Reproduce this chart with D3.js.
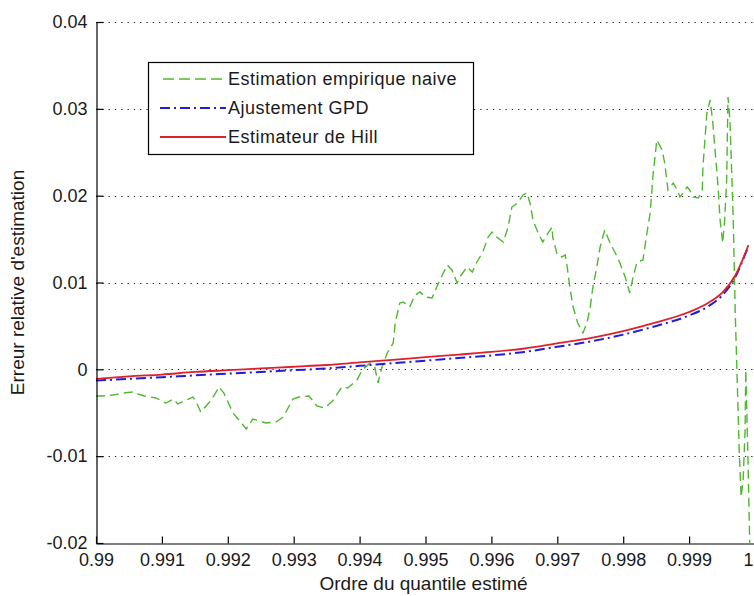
<!DOCTYPE html>
<html>
<head>
<meta charset="utf-8">
<script src="https://cdn.jsdelivr.net/npm/d3@7"></script>
<style>
  html, body { margin: 0; padding: 0; background: #fff; }
  svg { display: block; }
  text { font-family: "Liberation Sans", Arial, sans-serif; fill: #1a1a1a; }
</style>
</head>
<body>
<svg id="chart" width="754" height="596"></svg>
<script>
// ---------- DATA ----------
const xTicks = [0.99, 0.991, 0.992, 0.993, 0.994, 0.995, 0.996, 0.997, 0.998, 0.999, 1];
const xTickLabels = ["0.99", "0.991", "0.992", "0.993", "0.994", "0.995", "0.996", "0.997", "0.998", "0.999", "1"];
const yTicks = [-0.02, -0.01, 0, 0.01, 0.02, 0.03, 0.04];
const yTickLabels = ["-0.02", "-0.01", "0", "0.01", "0.02", "0.03", "0.04"];

const seriesNames = ["Estimation empirique naive", "Ajustement GPD", "Estimateur de Hill"];

// Estimation empirique naive (green dashed)
const empX = [0.99000,0.99008,0.99026,0.99041,0.99056,0.99064,0.99073,0.99091,0.99106,0.99118,
  0.99124,0.99137,0.99147,0.99152,0.99159,0.99175,0.99187,0.99194,0.99208,0.99228,
  0.99238,0.99258,0.99273,0.99284,0.99299,0.99308,0.99323,0.99331,0.99335,0.99347,
  0.99359,0.99373,0.99382,0.99396,0.99404,0.99416,0.99423,0.99428,0.99434,0.99442,
  0.99451,0.99454,0.99461,0.99466,0.99476,0.99484,0.99492,0.99499,0.99510,0.99517,
  0.99527,0.99533,0.99540,0.99548,0.99552,0.99563,0.99571,0.99578,0.99587,0.99595,
  0.99601,0.99608,0.99618,0.99625,0.99631,0.99640,0.99648,0.99654,0.99659,0.99663,
  0.99671,0.99678,0.99686,0.99692,0.99693,0.99700,0.99707,0.99712,0.99715,0.99719,
  0.99724,0.99731,0.99739,0.99745,0.99750,0.99754,0.99760,0.99765,0.99772,0.99780,
  0.99788,0.99795,0.99803,0.99810,0.99815,0.99821,0.99830,0.99836,0.99841,0.99845,
  0.99851,0.99859,0.99863,0.99868,0.99876,0.99882,0.99886,0.99891,0.99897,0.99901,
  0.99906,0.99914,0.99920,0.99921,0.99927,0.99932,0.99936,0.99939,0.99944,0.99947,
  0.99951,0.99954,0.99957,0.99959,0.99962,0.99965,0.99967,0.99970,0.99973,0.99976,
  0.99979,0.99982,0.99985,0.99986,0.99989,0.99992];
const empY = [-0.00307,-0.00307,-0.00296,-0.00273,-0.00261,-0.00284,-0.00307,-0.00330,-0.00388,-0.00342,
  -0.00399,-0.00353,-0.00319,-0.00376,-0.00491,-0.00353,-0.00203,-0.00273,-0.00503,-0.00687,
  -0.00572,-0.00618,-0.00606,-0.00549,-0.00342,-0.00319,-0.00307,-0.00376,-0.00422,-0.00445,
  -0.00365,-0.00203,-0.00215,-0.00123,-0.00008,0.00073,0.00027,-0.00157,0.00027,0.00188,
  0.00303,0.00534,0.00764,0.00776,0.00718,0.00856,0.00891,0.00833,0.00822,0.00948,
  0.01110,0.01202,0.01144,0.00994,0.01063,0.01179,0.01121,0.01236,0.01351,0.01524,
  0.01582,0.01524,0.01466,0.01628,0.01869,0.01916,0.02008,0.02031,0.01904,0.01720,
  0.01570,0.01466,0.01570,0.01639,0.01524,0.01317,0.01294,0.01317,0.01179,0.00948,
  0.00718,0.00534,0.00419,0.00534,0.00718,0.00948,0.01179,0.01409,0.01605,0.01455,
  0.01340,0.01225,0.01063,0.00879,0.01063,0.01236,0.01259,0.01570,0.01800,0.02215,
  0.02641,0.02526,0.02376,0.02065,0.02146,0.02065,0.01985,0.02031,0.02100,0.02065,
  0.01985,0.01973,0.02065,0.02330,0.02952,0.03102,0.02837,0.02560,0.02100,0.01720,
  0.01455,0.01720,0.02180,0.03136,0.02871,0.02180,0.01720,0.00649,-0.00123,-0.00929,
  -0.01470,-0.01274,-0.00698,-0.00008,-0.00929,-0.02000];

// Ajustement GPD (blue dash-dot) and Estimateur de Hill (red solid)
const fitX = [0.9900,0.9905,0.9910,0.9915,0.9920,0.9925,0.9930,0.9935,0.9940,0.9945,
  0.9950,0.9955,0.9960,0.9965,0.9970,0.9975,0.9980,0.9985,0.9990,0.9993,
  0.9995,0.9997,0.9998,0.9999];
const gpdY = [-0.0013,-0.0011,-0.0009,-0.0007,-0.0005,-0.0003,-0.0001,0.0001,0.0004,0.0007,
  0.0010,0.0013,0.0016,0.0020,0.0026,0.0032,0.0040,0.0050,0.0062,0.0073,
  0.0085,0.0106,0.0123,0.0142];
const hillY = [-0.0011,-0.0008,-0.0006,-0.0003,-0.0001,0.0001,0.0003,0.0005,0.0008,0.0011,
  0.0014,0.0017,0.0020,0.0024,0.0030,0.0036,0.0044,0.0054,0.0066,0.0077,
  0.0088,0.0108,0.0124,0.0143];

const colors = { emp: "#4fb82e", gpd: "#1f1fd6", hill: "#e0202a" };

// ---------- LAYOUT ----------
const mLeft = 96, mTop = 22, mRight = 755, mBottom = 543;
const svg = d3.select("#chart");

const x = d3.scaleLinear().domain([0.99, 1]).range([mLeft, mRight]);
const y = d3.scaleLinear().domain([-0.02, 0.04]).range([mBottom, mTop]);

svg.append("defs").append("clipPath").attr("id", "clip")
  .append("rect").attr("x", mLeft).attr("y", mTop - 1)
  .attr("width", mRight - mLeft).attr("height", mBottom - mTop + 2);

// horizontal dotted grid
svg.append("g").selectAll("line").data(yTicks.filter(v => v !== -0.02)).join("line")
  .attr("x1", mLeft).attr("x2", mRight)
  .attr("y1", d => Math.round(y(d)) + 0.5).attr("y2", d => Math.round(y(d)) + 0.5)
  .attr("stroke", "#222").attr("stroke-width", 1.2)
  .attr("stroke-dasharray", "1.3,5");

// series
const line = d3.line().x(d => x(d[0])).y(d => y(d[1]));
const plot = svg.append("g").attr("clip-path", "url(#clip)");
plot.append("path").datum(empX.map((v, i) => [v, empY[i]]))
  .attr("d", line).attr("fill", "none")
  .attr("stroke", colors.emp).attr("stroke-width", 1.4).attr("stroke-dasharray", "9,5");
const smooth = d3.line().x(d => x(d[0])).y(d => y(d[1])).curve(d3.curveMonotoneX);
plot.append("path").datum(fitX.map((v, i) => [v, gpdY[i]]))
  .attr("d", smooth).attr("fill", "none")
  .attr("stroke", colors.gpd).attr("stroke-width", 2).attr("stroke-dasharray", "10,4,2,4");
plot.append("path").datum(fitX.map((v, i) => [v, hillY[i]]))
  .attr("d", smooth).attr("fill", "none")
  .attr("stroke", colors.hill).attr("stroke-width", 1.8);

// axes
const xAxis = d3.axisBottom(x).tickValues(xTicks).tickFormat((d, i) => xTickLabels[i])
  .tickSizeInner(-7).tickSizeOuter(0).tickPadding(10);
const gx = svg.append("g").attr("transform", `translate(0,${mBottom + 0.5})`).call(xAxis);
gx.select(".domain").attr("stroke", "#000").attr("stroke-width", 1.2);
gx.selectAll(".tick line").attr("stroke", "#000").attr("stroke-width", 1.2);
gx.selectAll(".tick text").attr("font-size", 18).attr("fill", "#1a1a1a")
  .attr("font-family", "'Liberation Sans', Arial, sans-serif")
  .attr("dx", (d, i) => i === xTicks.length - 1 ? -7 : 0);

const yAxis = d3.axisLeft(y).tickValues(yTicks).tickFormat((d, i) => yTickLabels[i])
  .tickSizeInner(-7).tickSizeOuter(0).tickPadding(9);
const gy = svg.append("g").attr("transform", `translate(${mLeft + 0.5},0)`).call(yAxis);
gy.select(".domain").attr("stroke", "#000").attr("stroke-width", 1.2);
gy.selectAll(".tick line").attr("stroke", "#000").attr("stroke-width", 1.2);
gy.selectAll(".tick text").attr("font-size", 18).attr("fill", "#1a1a1a")
  .attr("font-family", "'Liberation Sans', Arial, sans-serif");

// axis titles
svg.append("text").attr("x", (mLeft + mRight) / 2 - 2).attr("y", 590)
  .attr("text-anchor", "middle").attr("font-size", 19)
  .text("Ordre du quantile estimé");
svg.append("text").attr("transform", `translate(24,${(mTop + mBottom) / 2}) rotate(-90)`)
  .attr("text-anchor", "middle").attr("font-size", 19)
  .text("Erreur relative d'estimation");

// legend
const lg = svg.append("g");
lg.append("rect").attr("x", 148.5).attr("y", 62.5).attr("width", 325).attr("height", 92)
  .attr("fill", "#fff").attr("stroke", "#000").attr("stroke-width", 1.2);
const rows = [
  { name: seriesNames[0], color: colors.emp, dash: "11,5", w: 1.4, y: 79, x1: 163 },
  { name: seriesNames[1], color: colors.gpd, dash: "10,4,2,4", w: 2, y: 108, x1: 160 },
  { name: seriesNames[2], color: colors.hill, dash: null, w: 1.8, y: 137, x1: 160 }
];
rows.forEach(r => {
  lg.append("line").attr("x1", r.x1).attr("x2", 226).attr("y1", r.y).attr("y2", r.y)
    .attr("stroke", r.color).attr("stroke-width", r.w)
    .attr("stroke-dasharray", r.dash);
  lg.append("text").attr("x", 228).attr("y", r.y).attr("dy", "0.35em")
    .attr("font-size", 18).attr("letter-spacing", 0.5).text(r.name);
});
</script>
</body>
</html>
